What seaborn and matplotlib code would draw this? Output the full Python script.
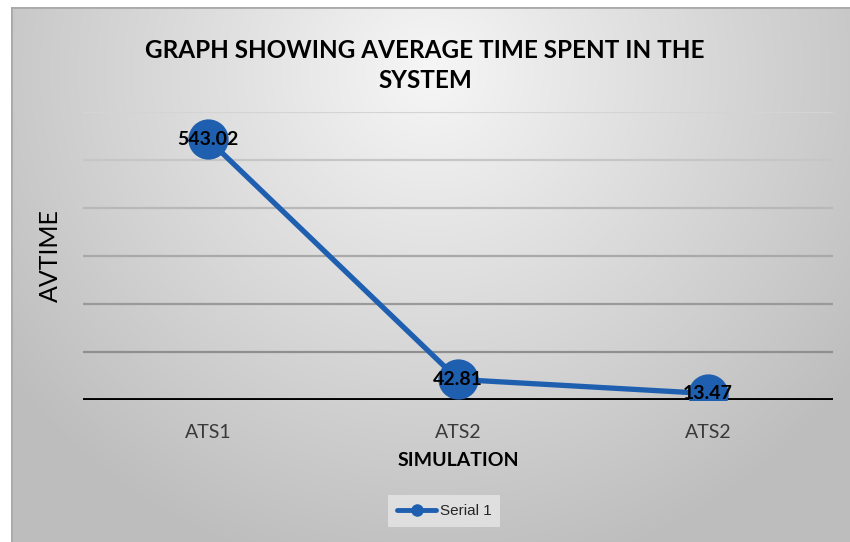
import numpy as np
import pandas as pd
import matplotlib
matplotlib.use("Agg")
import matplotlib.pyplot as plt
import seaborn as sns

sns.set_theme(style="white")

categories = ["ATS1", "ATS2", "ATS2"]
avtime = [543.02, 42.81, 13.47]
series_name = "Serial 1"
yticks = [0, 100, 200, 300, 400, 500, 600]

plt.rcParams['font.family'] = ['Lato', 'DejaVu Sans']

fig = plt.figure(figsize=(8.5, 5.42), dpi=100)
fig.patch.set_facecolor("white")

# gradient background panel
bg = fig.add_axes([11/850, 0, 1 - 11/850, 1 - 7/542])
bg.set_axis_off()
H, W = 535, 839
yy, xx = np.mgrid[0:H, 0:W]
cx, cy = W * 0.5, H * 0.12
r = np.sqrt(((xx - cx) / (W * 0.62)) ** 2 + ((yy - cy) / (H * 0.95)) ** 2)
r = np.clip(r, 0, 1)
val = 0.965 - 0.22 * r
img = np.dstack([val, val, val])
bg.imshow(img, aspect="auto", extent=[0, 1, 0, 1], origin="upper")
bg.plot([0, 1], [1, 1], color="#a9a9a9", lw=2, transform=bg.transAxes)
bg.plot([0, 0], [0, 1], color="#a9a9a9", lw=2, transform=bg.transAxes)
bg.set_xlim(0, 1); bg.set_ylim(0, 1)

ax = fig.add_axes([83/850, 1 - 400/542, 750/850, 288/542])
ax.set_facecolor("none")

df = pd.DataFrame({"pos": np.arange(len(categories)), "AVTIME": avtime, "series": series_name})
sns.lineplot(data=df, x="pos", y="AVTIME", hue="series", palette=["#1F5FB0"],
             marker="o", markersize=29, linewidth=3.8, markeredgewidth=0,
             sort=False, ax=ax, zorder=5, legend=True)

ax.set_xlim(-0.5, len(categories) - 0.5)
ax.set_ylim(0, 600)
ax.set_yticks(yticks)
ax.set_yticklabels([])
ax.tick_params(axis="y", length=0)
ax.set_xticks(df["pos"])
ax.set_xticklabels(categories, fontsize=14, color="#3a3a3a")
ax.tick_params(axis="x", length=0, pad=17)
for s in ["top", "right", "left", "bottom"]:
    ax.spines[s].set_visible(False)
ax.axhline(0, color="black", lw=2.8, zorder=3)

grid_colors = ["#8f8f8f", "#9a9a9a", "#a9a9a9", "#b8b8b8", "#c6c6c6", "#d4d4d4"]
for yv, c in zip(yticks[1:], grid_colors):
    ax.axhline(yv, color=c, lw=1.6, zorder=1)

for x, y in zip(df["pos"], df["AVTIME"]):
    ax.text(x, y, f"{y:.2f}", ha="center", va="center", fontsize=14,
            fontweight="bold", color="black", zorder=6)

ax.set_xlabel("SIMULATION", fontsize=14, fontweight="bold", labelpad=8, color="black")
ax.set_ylabel("AVTIME", fontsize=18, labelpad=12, color="black")

fig.text(0.5, 1 - 50/542, "GRAPH SHOWING AVERAGE TIME SPENT IN THE", ha="center",
         va="center", fontsize=17.5, fontweight="bold", color="black")
fig.text(0.5, 1 - 81/542, "SYSTEM", ha="center", va="center", fontsize=17.5,
         fontweight="bold", color="black")

leg = ax.legend(loc="center", bbox_to_anchor=(444/850, 1 - 511/542),
                bbox_transform=fig.transFigure, frameon=True, fancybox=False,
                prop={"family": "Liberation Sans", "size": 11}, handlelength=2.6,
                borderpad=0.6, handletextpad=0.2)
leg.get_frame().set_facecolor("#e6e6e6")
leg.get_frame().set_edgecolor("none")
for h in leg.legend_handles:
    h.set_markersize(9)
    h.set_linewidth(3.5)

fig.savefig("out.png", dpi=100)
